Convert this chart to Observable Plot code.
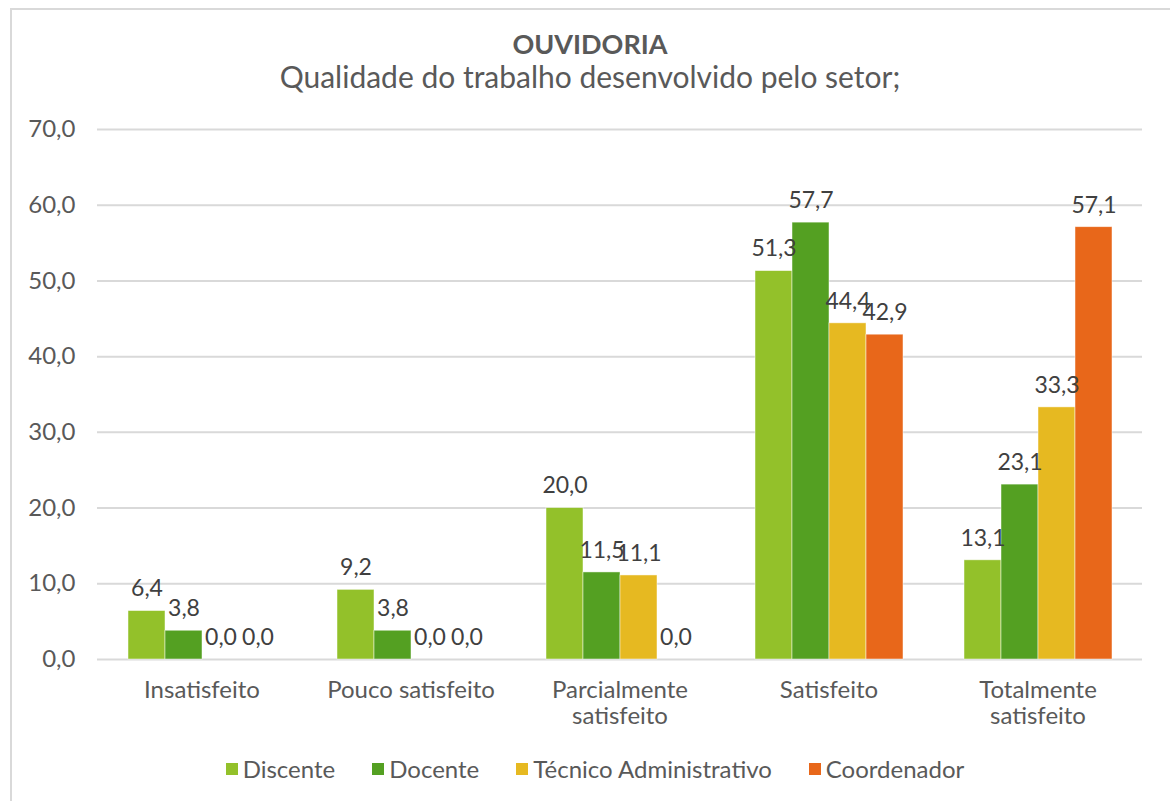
<!DOCTYPE html>
<html>
<head>
<meta charset="utf-8">
<script src="https://cdn.jsdelivr.net/npm/d3@7"></script>
<script src="https://cdn.jsdelivr.net/npm/@observablehq/plot@0.6"></script>
<style>
  html, body { margin: 0; padding: 0; background: #fff; width: 1170px; height: 801px; overflow: hidden; }
  body { position: relative; font-family: Lato, "Noto Sans", sans-serif; color: #595959; }
  #frame { position: absolute; left: 10px; top: 8px; width: 1200px; height: 900px; border: 2px solid #d9d9d9; box-sizing: border-box; }
  #title { position: absolute; left: 0; width: 1180px; top: 27px; text-align: center; font-weight: bold; font-size: 27px; }
  #subtitle { position: absolute; left: 0; width: 1180px; top: 58px; text-align: center; font-size: 30px; }
  #chart { position: absolute; left: 0; top: 110px; }
  #legend { position: absolute; left: 0; width: 1190px; top: 754px; display: flex; justify-content: center; gap: 37px; font-size: 24px; }
  .item { display: flex; align-items: center; gap: 5px; }
  .sw { width: 12px; height: 12px; display: inline-block; }
</style>
</head>
<body>
<div id="frame"></div>
<div id="title">OUVIDORIA</div>
<div id="subtitle">Qualidade do trabalho desenvolvido pelo setor;</div>
<div id="chart"></div>
<div id="legend"></div>
<script>
const categories = ["Insatisfeito", "Pouco satisfeito", "Parcialmente satisfeito", "Satisfeito", "Totalmente satisfeito"];
const categoryLabels = ["Insatisfeito", "Pouco satisfeito", "Parcialmente\nsatisfeito", "Satisfeito", "Totalmente\nsatisfeito"];
const series = ["Discente", "Docente", "Técnico Administrativo", "Coordenador"];
const seriesColors = ["#93c12a", "#54a022", "#e6b921", "#e8671a"];
const discente = [6.4, 9.2, 20.0, 51.3, 13.1];
const docente = [3.8, 3.8, 11.5, 57.7, 23.1];
const tecnico = [0.0, 0.0, 11.1, 44.4, 33.3];
const coordenador = [0.0, 0.0, 0.0, 42.9, 57.1];
const yTicks = [0, 10, 20, 30, 40, 50, 60, 70];

const seriesValues = [discente, docente, tecnico, coordenador];
const data = [];
categories.forEach((c, i) => series.forEach((s, j) => data.push({cat: c, series: s, value: seriesValues[j][i]})));
const fmt = v => v.toFixed(1).replace(".", ",");

const chart = Plot.plot({
  width: 1170,
  height: 624,
  marginTop: 19,
  marginBottom: 75,
  marginLeft: 95,
  marginRight: 27,
  style: {fontFamily: "Lato, 'Noto Sans', sans-serif", fontSize: "24px", color: "#595959", background: "transparent"},
  fx: {domain: categories, padding: 0, label: null},
  x: {domain: series, paddingInner: 0, paddingOuter: 0.758, axis: null},
  y: {domain: [0, 70], label: null},
  color: {domain: series, range: seriesColors},
  marks: [
    Plot.ruleY(yTicks, {stroke: "#d9d9d9", strokeWidth: 2}),
    Plot.barY(data, {fx: "cat", x: "series", y: "value", fill: "series", stroke: "white", strokeWidth: 0.8, strokeOpacity: 0.6}),
    Plot.text(data, {fx: "cat", x: "series", y: "value", text: d => fmt(d.value), dy: -22, fill: "#404040", fontSize: 23}),
    Plot.axisY({ticks: yTicks, tickFormat: fmt, tickSize: 0, tickPadding: 22, fontSize: 24, label: null, fill: "#595959"}),
    Plot.axisFx({anchor: "bottom", tickSize: 0, tickPadding: 19, fontSize: 24, label: null, lineHeight: 1.12,
      tickFormat: d => categoryLabels[categories.indexOf(d)], fill: "#595959"})
  ]
});
document.getElementById("chart").appendChild(chart);

const legend = document.getElementById("legend");
series.forEach((s, i) => {
  const item = document.createElement("div");
  item.className = "item";
  const sw = document.createElement("span");
  sw.className = "sw";
  sw.style.background = seriesColors[i];
  const t = document.createElement("span");
  t.textContent = s;
  item.appendChild(sw);
  item.appendChild(t);
  legend.appendChild(item);
});
</script>
</body>
</html>
